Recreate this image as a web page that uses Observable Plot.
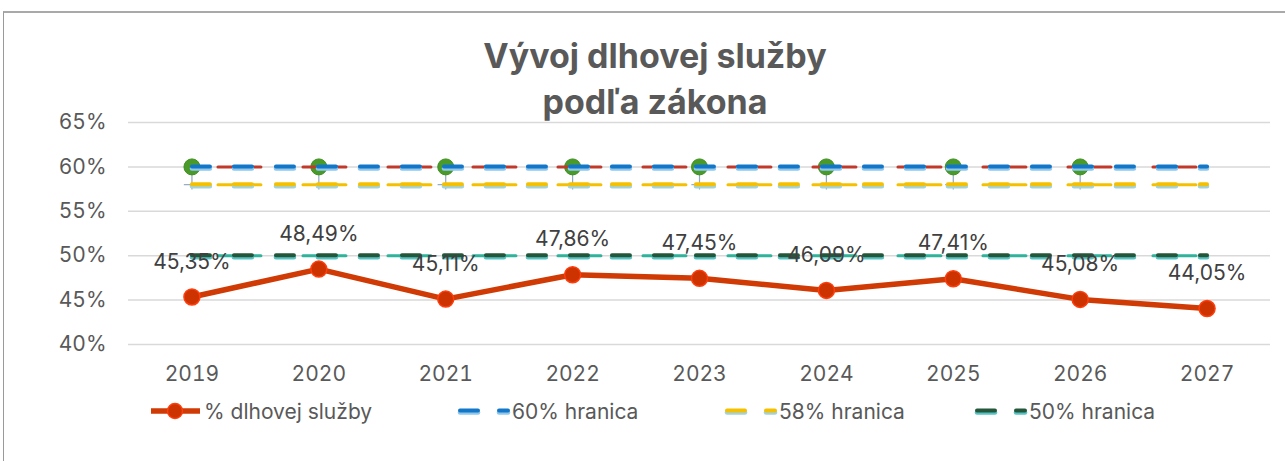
<!DOCTYPE html>
<html>
<head>
<meta charset="utf-8">
<script src="https://cdn.jsdelivr.net/npm/d3@7"></script>
<script src="https://cdn.jsdelivr.net/npm/@observablehq/plot@0.6"></script>
<style>
  body { margin: 0; background: #fff; font-family: Inter, "Noto Sans", sans-serif; }
  #wrap { position: relative; width: 1285px; height: 461px; overflow: hidden; }
  #frame { position: absolute; left: 3px; top: 11px; right: 0; bottom: 0; border-top: 2px solid #a9a9a9; border-left: 1px solid #9a9a9a; }
  #title { position: absolute; left: 25px; width: 1260px; top: 33px; text-align: center; font-weight: 700; font-size: 34px; line-height: 46px; color: #595959; }
  #chart { position: absolute; left: 0; top: 100px; }
  .leg { position: absolute; top: 398px; height: 26px; display: flex; align-items: center; font-size: 21px; color: #595959; }
  .leg svg { display: block; }
</style>
</head>
<body>
<div id="wrap">
  <div id="frame"></div>
  <div id="title">Vývoj dlhovej služby<br>podľa zákona</div>
  <div id="chart"></div>
  <div id="legend"></div>
</div>
<script>
const years = [2019, 2020, 2021, 2022, 2023, 2024, 2025, 2026, 2027];
const debtService = [45.35, 48.49, 45.11, 47.86, 47.45, 46.09, 47.41, 45.08, 44.05];
const limit60 = [60, 60, 60, 60, 60, 60, 60, 60, 60];
const limit58 = [58, 58, 58, 58, 58, 58, 58, 58, 58];
const limit50 = [50, 50, 50, 50, 50, 50, 50, 50, 50];
const markerYears = [2019, 2020, 2021, 2022, 2023, 2024, 2025, 2026];
const markerValues = [60, 60, 60, 60, 60, 60, 60, 60];
const yTicks = [40, 45, 50, 55, 60, 65];
const seriesNames = ["% dlhovej služby", "60% hranica", "58% hranica", "50% hranica"];

const debt = years.map((y, i) => ({year: y, value: debtService[i]}));
const mk = arr => years.map((y, i) => ({year: y, value: arr[i]}));
const l60 = mk(limit60), l58 = mk(limit58), l50 = mk(limit50);
const markers = markerYears.map((y, i) => ({year: y, value: markerValues[i]}));

const fmt = v => v.toFixed(2).replace(".", ",") + "%";

function limitMarks(data, main, shadow, longc) {
  return [
    Plot.line(data, {x: "year", y: "value", stroke: longc, strokeWidth: 3, strokeDasharray: "43,42", strokeDashoffset: 59}),
    Plot.line(data, {x: "year", y: "value", stroke: shadow, strokeWidth: 4.5, strokeLinecap: "round", strokeDasharray: "18,24", dy: 1.5}),
    Plot.line(data, {x: "year", y: "value", stroke: main, strokeWidth: 4, strokeLinecap: "round", strokeDasharray: "18,24", dy: -0.5})
  ];
}

const chart = Plot.plot({
  width: 1285,
  height: 290,
  marginLeft: 128,
  marginRight: 15,
  marginTop: 22,
  marginBottom: 46,
  style: {fontFamily: "Inter, 'Noto Sans', sans-serif", fontSize: "21px", color: "#595959", background: "transparent"},
  x: {type: "linear", domain: [2018.5, 2027.5]},
  y: {domain: [40, 65]},
  marks: [
    Plot.ruleY(yTicks, {stroke: "#d9d9d9", strokeWidth: 1.5}),
    Plot.axisY({ticks: yTicks, tickSize: 0, tickPadding: 22, tickFormat: d => d + "%", fontSize: 21, label: null}),
    Plot.axisX({ticks: years, tickSize: 0, tickPadding: 22, tickFormat: d => String(d), fontSize: 21, label: null}),
    Plot.ruleX(markers, {x: "year", y1: "value", y2: 57.4, stroke: "#8ea9c1", strokeWidth: 1.2}),
    Plot.ruleY(markers, {x1: d => d.year - 0.06, x2: "year", y: 58, stroke: "#8ea9c1", strokeWidth: 1.2}),
    ...limitMarks(l50, "#24573a", "#56c3c4", "#2fb39a"),
    ...limitMarks(l58, "#f5c000", "#9fd3e3", "#f5c000"),
    Plot.dot(markers, {x: "year", y: "value", r: 8, fill: "#4a9a2a", stroke: "#3f8f22", strokeWidth: 1}),
    ...limitMarks(l60, "#1277c8", "#8fc8ec", "#c0392b"),
    Plot.line(debt, {x: "year", y: "value", stroke: "#d03a04", strokeWidth: 5.5}),
    Plot.dot(debt, {x: "year", y: "value", r: 8, fill: "#cc3300", stroke: "#ff3d0d", strokeWidth: 1.5}),
    Plot.text(debt, {x: "year", y: "value", text: d => fmt(d.value), dy: -35, fontSize: 21, fill: "#404040"})
  ]
});
document.getElementById("chart").appendChild(chart);

const legend = document.getElementById("legend");
const legItems = [
  {left: 150, kind: "main"},
  {left: 456, kind: "limit", main: "#1277c8", shadow: "#8fc8ec"},
  {left: 723, kind: "limit", main: "#f5c000", shadow: "#9fd3e3"},
  {left: 973, kind: "limit", main: "#24573a", shadow: "#56c3c4"}
];
legItems.forEach((it, i) => {
  const div = document.createElement("div");
  div.className = "leg";
  div.style.left = it.left + "px";
  const s = d3.create("svg").attr("width", it.kind === "main" ? 54 : 56).attr("height", 26);
  if (it.kind === "main") {
    s.append("line").attr("x1", 1).attr("x2", 50).attr("y1", 13).attr("y2", 13).attr("stroke", "#d03a04").attr("stroke-width", 5.5);
    s.append("circle").attr("cx", 25).attr("cy", 13).attr("r", 7.5).attr("fill", "#cc3300").attr("stroke", "#ff3d0d").attr("stroke-width", 1.5);
  } else {
    [[4, 22], [43, 52]].forEach(([a, b]) => {
      s.append("line").attr("x1", a).attr("x2", b).attr("y1", 14.5).attr("y2", 14.5).attr("stroke", it.shadow).attr("stroke-width", 4.5).attr("stroke-linecap", "round");
      s.append("line").attr("x1", a).attr("x2", b).attr("y1", 12.5).attr("y2", 12.5).attr("stroke", it.main).attr("stroke-width", 4).attr("stroke-linecap", "round");
    });
  }
  div.appendChild(s.node());
  const t = document.createElement("span");
  t.textContent = seriesNames[i];
  div.appendChild(t);
  legend.appendChild(div);
});
</script>
</body>
</html>
